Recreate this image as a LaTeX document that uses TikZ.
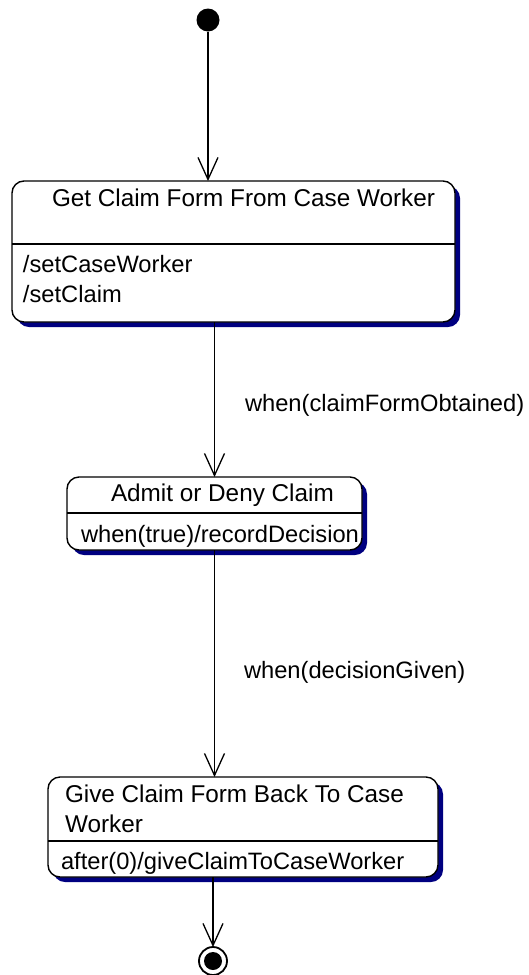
\documentclass[tikz,border=0pt]{standalone}
\usepackage{fontspec}
\setmainfont{Liberation Sans}
\usetikzlibrary{arrows.meta,shadows}
\definecolor{navyshadow}{RGB}{0,0,128}
\tikzset{
  statebox/.style={draw=black, line width=1.4pt, rounded corners=12pt, fill=white,
    rectangle, inner sep=0pt, outer sep=0pt,
    general shadow={fill=navyshadow, shadow xshift=5pt, shadow yshift=-5pt}},
  txt/.style={font=\fontsize{23.7}{28}\selectfont, inner sep=0pt, outer sep=0pt, anchor=base west},
  ttl/.style={txt, font=\fontsize{24.3}{28}\selectfont},
  divider/.style={draw=black, line width=1.2pt},
  conn/.style={-{Straight Barb[length=22pt,width=20pt,line width=1.3pt]}, line width=1.3pt},
  initst/.style={circle, fill=black, minimum size=23pt, inner sep=0pt, outer sep=0pt},
  finalst/.style={circle, draw=black, line width=1.8pt, fill=white, minimum size=28pt, inner sep=0pt, outer sep=0pt},
  finalin/.style={circle, fill=black, minimum size=18pt, inner sep=0pt, outer sep=0pt}
}
\begin{document}
\begin{tikzpicture}[x=1pt, y=-1pt]
\useasboundingbox (0,0) rectangle (529,975);

% initial state
\node[initst] (start) at (208,20) {};

% state 1
\node[statebox, minimum width=443pt, minimum height=141pt] (box1) at (233.5,251.5) {};
\draw[divider] (box1.west |- 0,244) -- (box1.east |- 0,244);
\node[ttl] (t1) at (52,206) {Get Claim Form From Case Worker};
\node[txt] (e1a) at (23,272) {/setCaseWorker};
\node[txt] (e1b) at (23,302) {/setClaim};

% state 2
\node[statebox, minimum width=295pt, minimum height=73pt] (box2) at (214.5,513.5) {};
\draw[divider] (box2.west |- 0,513) -- (box2.east |- 0,513);
\node[ttl] (t2) at (111,501) {Admit or Deny Claim};
\node[txt] (e2) at (81,542) {when(true)/recordDecision};

% state 3
\node[statebox, minimum width=390pt, minimum height=100pt] (box3) at (243,827) {};
\draw[divider] (box3.west |- 0,841) -- (box3.east |- 0,841);
\node[ttl] (t3a) at (65,802) {Give Claim Form Back To Case};
\node[ttl] (t3b) at (65,832) {Worker};
\node[txt] (e3) at (61,869) {after(0)/giveClaimToCaseWorker};

% final state
\node[finalst] (end) at (213,961) {};
\node[finalin] (endin) at (end.center) {};

% transitions
\draw[conn] (start.south) -- (start.south |- box1.north);
\draw[conn] (box1.south -| box2.north) -- (box2.north);
\draw[conn] (box2.south) -- (box2.south |- box3.north);
\draw[conn] (box3.south -| end.north) -- (end.north);

% transition labels
\node[txt] (l1) at (245,411) {when(claimFormObtained)};
\node[txt] (l2) at (244,678) {when(decisionGiven)};
\end{tikzpicture}
\end{document}
